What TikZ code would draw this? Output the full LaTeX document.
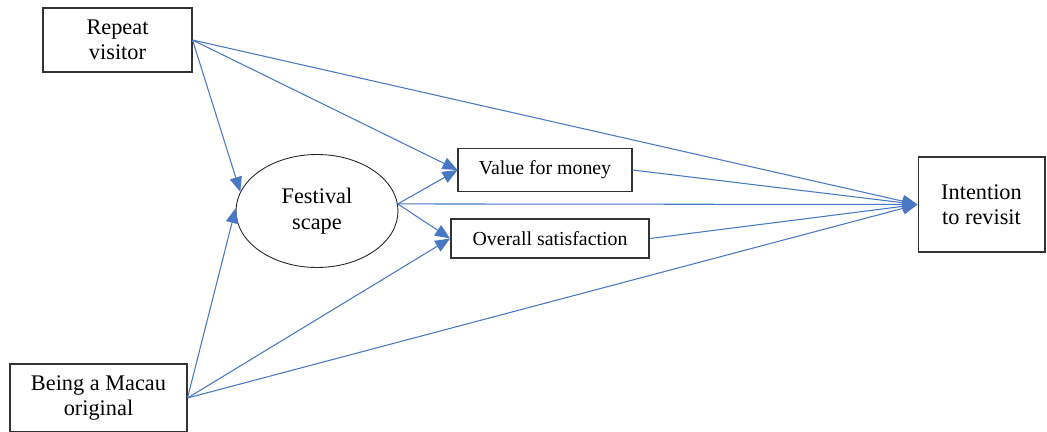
\documentclass[tikz,border=0pt]{standalone}
\usepackage{fontspec}
\setmainfont{Liberation Serif}
\usetikzlibrary{arrows.meta,shapes.geometric}
\definecolor{linkblue}{RGB}{72,120,196}
\tikzset{
  box/.style={draw=black!80,line width=0.6pt,align=center,inner sep=0pt,font=\fontsize{11.3}{14.2}\selectfont},
  bigtext/.style={font=\fontsize{12.7}{14.4}\selectfont},
  oval/.style={draw=black!85,ellipse,line width=0.5pt,align=center,inner sep=0pt},
  link/.style={draw=linkblue,line width=0.6pt,-{Triangle[length=8.5pt,width=7pt]}}
}

\begin{document}
\begin{tikzpicture}[x=0.02cm,y=-0.02cm]
\useasboundingbox (0,0) rectangle (1047,432);
% visitor characteristics
\node[box,bigtext,minimum width=2.98cm,minimum height=1.28cm] (rv) at (117.5,40) {Repeat\\visitor};
\node[box,bigtext,minimum width=3.54cm,minimum height=1.36cm] (macau) at (98.5,398) {Being a Macau\\original};
% mediators
\node[oval,bigtext,minimum width=3.24cm,minimum height=2.26cm] (fest) at (317,211) {Festival\\scape};
\node[box,minimum width=3.48cm,minimum height=0.86cm] (vfm) at (545,170) {Value for money};
\node[box,line width=1.1pt,minimum width=3.96cm,minimum height=0.78cm] (sat) at (550,238.5) {Overall satisfaction};
% outcome
\node[box,bigtext,minimum width=2.54cm,minimum height=1.9cm] (itr) at (981.5,204.5) {Intention\\to revisit};
% paths
\draw[link] (rv.east) -- (fest.166);
\draw[link] (rv.east) -- (vfm.west);
\draw[link] (rv.east) -- (itr.west);
\draw[link] (macau.east) -- (fest.178);
\draw[link] (macau.east) -- (sat.west);
\draw[link] (macau.east) -- (itr.west);
\draw[link] (fest.5) -- (vfm.west);
\draw[link] (fest.5) -- (sat.west);
\draw[link] (fest.5) -- (itr.west);
\draw[link] (vfm.east) -- (itr.west);
\draw[link] (sat.east) -- (itr.west);
\end{tikzpicture}
\end{document}
